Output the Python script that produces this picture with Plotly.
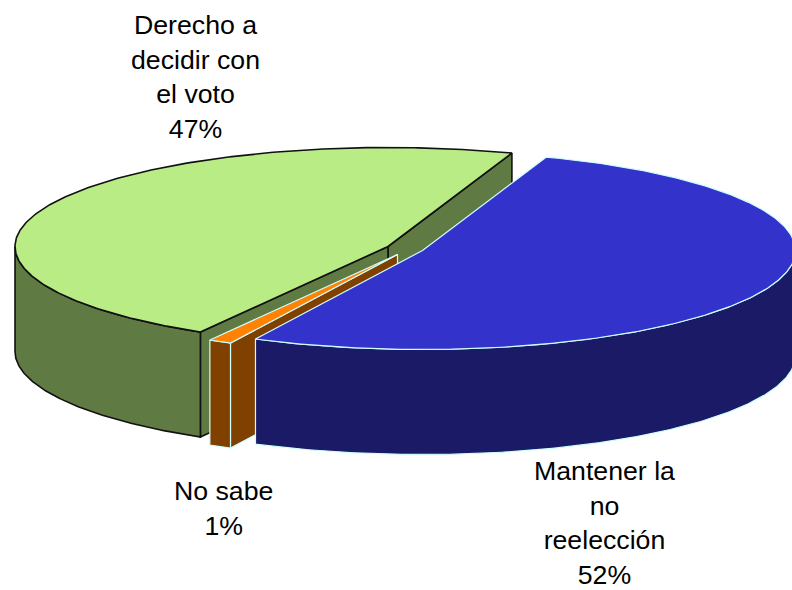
import numpy as np
import plotly.graph_objects as go

categories = ["Derecho a<br>decidir con<br>el voto", "No sabe", "Mantener la<br>no<br>reelección"]
shares = [47, 1, 52]
top_colors = ["#B9EC85", "#FF8205", "#3333CC"]
wall_colors = ["#5F7A42", "#804000", "#1A1A66"]
edge_colors = ["#111111", "#CCFFFF", "#CCFFFF"]
edge_widths = [1.6, 1.2, 1.2]

# pie projection on a canvas measured in page pixels
START_DEG = 70.6
RX, RY, DEPTH = 373, 99, 105
CENTRES = [(388, 246.5), (397.5, 254.5), (422.5, 250.5)]
LABEL_POS = [(195, 77), (223, 508), (604, 522.5)]


def rim(cx, cy, t0, t1, n=160, dy=0):
    t = np.radians(np.linspace(t0, t1, n))
    return cx + RX * np.cos(t), cy - RY * np.sin(t) + dy


fig = go.Figure()


def poly(xs, ys, fill, line, width):
    fig.add_trace(go.Scatter(
        x=np.append(xs, xs[0]), y=np.append(ys, ys[0]), mode="lines", fill="toself",
        fillcolor=fill, line=dict(color=line, width=width), hoverinfo="skip",
        showlegend=False,
    ))


angle = START_DEG
for share, (cx, cy), top, wall, edge, w in zip(shares, CENTRES, top_colors, wall_colors, edge_colors, edge_widths):
    t0 = angle
    t1 = angle + share * 3.6
    angle = t1

    # radial walls that face the viewer (start edge, then end edge)
    for t, visible in ((t0, np.sin(np.radians(t0)) > 0), (t1, np.sin(np.radians(t1)) < 0)):
        if visible:
            x1, y1 = rim(cx, cy, t, t, 1)
            poly(np.array([cx, x1[0], x1[0], cx]),
                 np.array([cy, y1[0], y1[0] + DEPTH, cy + DEPTH]), wall, edge, w)

    # outer wall on the front half of the ellipse
    for k in (-1, 0, 1):
        lo = max(t0, 180 + 360 * k)
        hi = min(t1, 360 + 360 * k)
        if hi > lo:
            xu, yu = rim(cx, cy, lo, hi)
            xd, yd = rim(cx, cy, hi, lo, dy=DEPTH)
            poly(np.concatenate([xu, xd]), np.concatenate([yu, yd]), wall, edge, w)

    # top face
    xt, yt = rim(cx, cy, t0, t1, 300)
    poly(np.concatenate([[cx], xt]), np.concatenate([[cy], yt]), top, edge, w)

for name, share, (lx, ly) in zip(categories, shares, LABEL_POS):
    fig.add_annotation(
        x=lx, y=ly, xref="x", yref="y", text=f"{name}<br>{share}%", showarrow=False,
        font=dict(family="Liberation Sans", size=26.7, color="#000000"), align="center",
    )

fig.update_layout(
    width=792, height=590, margin=dict(l=0, r=0, t=0, b=0),
    paper_bgcolor="#FFFFFF", plot_bgcolor="#FFFFFF", showlegend=False,
    xaxis=dict(range=[0, 792], visible=False, fixedrange=True),
    yaxis=dict(range=[590, 0], visible=False, fixedrange=True),
)
fig.write_html(
    "out.html",
    config={"displayModeBar": False},
    post_script="document.body.style.margin='0';document.documentElement.style.overflow='hidden';",
)
